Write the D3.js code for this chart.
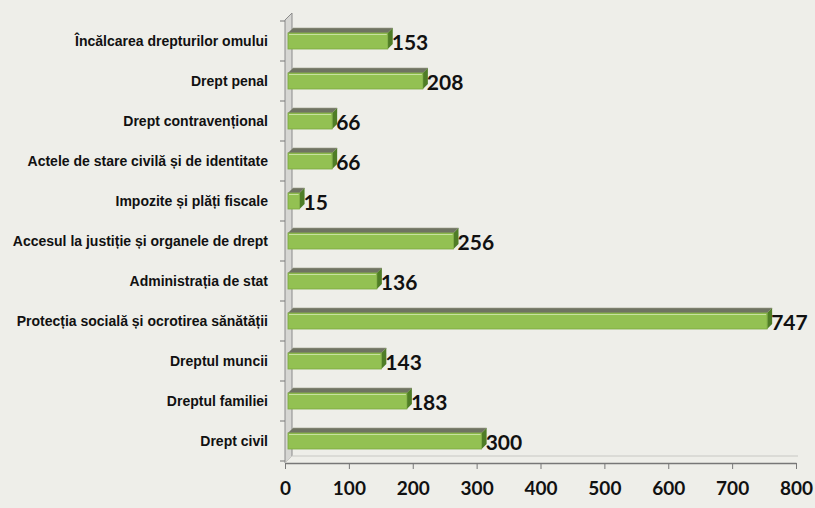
<!DOCTYPE html>
<html>
<head>
<meta charset="utf-8">
<script src="https://cdn.jsdelivr.net/npm/d3@7"></script>
<style>
  body { margin: 0; background: #eeeee9; }
  svg { display: block; }
</style>
</head>
<body>
<script>
// horizontal 3D-looking bar chart

const categories = ["Încălcarea drepturilor omului", "Drept penal", "Drept contravențional",
                    "Actele de stare civilă și de identitate", "Impozite și plăți fiscale",
                    "Accesul la justiție și organele de drept", "Administrația de stat",
                    "Protecția socială și ocrotirea sănătății", "Dreptul muncii",
                    "Dreptul familiei", "Drept civil"];
const values = [153, 208, 66, 66, 15, 256, 136, 747, 143, 183, 300];
const xTicks = [0, 100, 200, 300, 400, 500, 600, 700, 800];

const width = 815, height = 508;
const depth = 5;   // 3d offset

const svg = d3.select("body").append("svg")
    .attr("width", width)
    .attr("height", height);

svg.append("rect").attr("width", width).attr("height", height).attr("fill", "#eeeee9");

const x = d3.scaleLinear()
    .domain([0, 800])
    .range([285, 796]);

const y = d3.scaleBand()
    .domain(categories)
    .range([21, 461])
    .paddingInner(0.6)
    .paddingOuter(0.3);

const axisY = 463;
const x0 = x(0);

// back wall
svg.append("path")
    .attr("d", `M${x0},${axisY} L${x0},${20} L${x0 + depth + 2},${13} L${x0 + depth + 2},${axisY - 7} Z`)
    .attr("fill", "#d6d6d3")
    .attr("stroke", "#8a8a8a")
    .attr("stroke-width", 1);

// floor edge
svg.append("path")
    .attr("d", `M${x0},${axisY} L${x0 + depth + 2},${axisY - 7} L${x(800) + 2},${axisY - 7}`)
    .attr("fill", "none")
    .attr("stroke", "#c8c8c4")
    .attr("stroke-width", 1);

// category ticks on the wall
svg.selectAll(".ytick")
    .data(d3.range(categories.length + 1))
    .join("line")
    .attr("class", "ytick")
    .attr("x1", x0 - 5)
    .attr("x2", x0)
    .attr("y1", i => 21 + i * y.step())
    .attr("y2", i => 21 + i * y.step())
    .attr("stroke", "#777");

// x axis
const xAxis = svg.append("g")
    .attr("transform", "translate(0," + axisY + ")")
    .call(d3.axisBottom(x).tickValues(xTicks).tickSize(6).tickSizeOuter(0).tickPadding(13));

xAxis.select(".domain").attr("stroke", "#777").attr("stroke-width", 1.5);
xAxis.selectAll(".tick line").attr("stroke", "#777");
xAxis.selectAll("text")
    .attr("fill", "#111")
    .style("font-family", "Lato, 'Open Sans', sans-serif")
    .style("font-weight", 700)
    .style("font-size", "19px");

// bars
const bars = svg.selectAll(".bar")
    .data(values)
    .join("g")
    .attr("class", "bar");

// top face
bars.append("path")
    .attr("d", (d, i) => {
        const yt = y(categories[i]);
        const xe = x(d) + depth;
        return `M${x0 + 3},${yt} L${x0 + 3 + depth},${yt - depth} L${xe + depth},${yt - depth} L${xe},${yt} Z`;
    })
    .attr("fill", "#6f7362")
    .attr("stroke", "#9a9d8c")
    .attr("stroke-width", 0.6);

// end face
bars.append("path")
    .attr("d", (d, i) => {
        const yt = y(categories[i]);
        const xe = x(d) + depth;
        const h = y.bandwidth();
        return `M${xe},${yt} L${xe + depth},${yt - depth} L${xe + depth},${yt + h - depth} L${xe},${yt + h} Z`;
    })
    .attr("fill", "#4f7d26");

// front face
bars.append("rect")
    .attr("x", x0 + 3)
    .attr("y", (d, i) => y(categories[i]))
    .attr("width", d => x(d) + depth - x0 - 3)
    .attr("height", y.bandwidth())
    .attr("fill", "#93c152")
    .attr("stroke", "#7aa83e")
    .attr("stroke-width", 0.8);

// highlight line on front face
bars.append("line")
    .attr("x1", x0 + 4)
    .attr("x2", d => x(d) + depth - 1)
    .attr("y1", (d, i) => y(categories[i]) + 1.5)
    .attr("y2", (d, i) => y(categories[i]) + 1.5)
    .attr("stroke", "#c7e19f")
    .attr("stroke-width", 1);

// value labels
svg.selectAll(".val")
    .data(values)
    .join("text")
    .attr("class", "val")
    .attr("x", d => x(d) + depth + 4)
    .attr("y", (d, i) => y(categories[i]) + y.bandwidth() / 2 + 1)
    .attr("dy", "0.36em")
    .attr("fill", "#111")
    .style("font-family", "Lato, 'Open Sans', sans-serif")
    .style("font-weight", 700)
    .style("font-size", "21px")
    .text(d => d);

// category labels
svg.selectAll(".cat")
    .data(categories)
    .join("text")
    .attr("class", "cat")
    .attr("x", 268)
    .attr("y", d => y(d) + y.bandwidth() / 2)
    .attr("dy", "0.35em")
    .attr("text-anchor", "end")
    .attr("fill", "#111")
    .style("font-family", "'Liberation Sans', Arial, sans-serif")
    .style("font-weight", 700)
    .style("font-size", "14px")
    .text(d => d);
</script>
</body>
</html>
